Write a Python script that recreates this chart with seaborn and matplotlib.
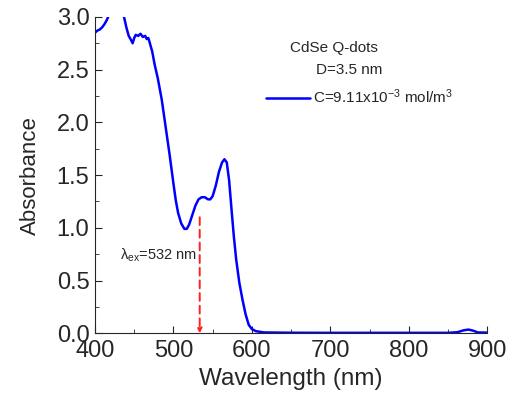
import numpy as np
import pandas as pd
import matplotlib
matplotlib.use('Agg')
import matplotlib.pyplot as plt
import seaborn as sns

# Absorbance spectrum of CdSe Q-dots
wavelength = [400, 403, 406, 409, 412, 415, 418, 425, 432, 437, 440, 443, 446, 448, 450,
              452, 455, 458, 461, 464, 466, 468, 470, 473, 476, 480, 485, 490, 495,
              500, 503, 506, 510, 514, 517, 520, 524, 528, 532, 536, 540, 544, 547,
              550, 554, 558, 562, 565, 568, 571, 574, 577, 580, 584, 588, 592, 596,
              600, 605, 615, 650, 700, 800, 850, 862, 870, 876, 882, 888, 900]
absorbance = [2.85, 2.87, 2.88, 2.90, 2.93, 2.97, 3.02, 3.08, 3.06, 3.00, 2.90, 2.82, 2.78, 2.75, 2.80,
              2.83, 2.82, 2.84, 2.81, 2.82, 2.79, 2.80, 2.75, 2.67, 2.55, 2.42, 2.22, 1.96, 1.70,
              1.42, 1.26, 1.14, 1.04, 0.99, 0.99, 1.03, 1.12, 1.21, 1.27, 1.29, 1.29, 1.27, 1.27,
              1.30, 1.40, 1.53, 1.62, 1.65, 1.62, 1.45, 1.18, 0.92, 0.70, 0.48, 0.32, 0.18, 0.08,
              0.04, 0.02, 0.008, 0.005, 0.004, 0.004, 0.004, 0.01, 0.028, 0.035, 0.025, 0.008, 0.006]

excitation_nm = 532
excitation_top = 1.10

x_ticks = [400, 500, 600, 700, 800, 900]
y_ticks = [0.0, 0.5, 1.0, 1.5, 2.0, 2.5, 3.0]

df = pd.DataFrame({'Wavelength': wavelength, 'Absorbance': absorbance})

sns.set_style('ticks')
plt.rcParams['font.family'] = ['Liberation Sans', 'DejaVu Sans']
plt.rcParams['mathtext.fontset'] = 'custom'
plt.rcParams['mathtext.rm'] = 'Liberation Sans'
plt.rcParams['mathtext.it'] = 'Liberation Sans'

fig = plt.figure(figsize=(5.08, 3.93), dpi=100)
ax = fig.add_axes([0.187, 0.152, 0.772, 0.805])

sns.lineplot(data=df, x='Wavelength', y='Absorbance', color='#0000ff', linewidth=1.8,
             label='C=9.11x10$^{-3}$ mol/m$^{3}$', ax=ax)

# excitation marker
ax.annotate('', xy=(excitation_nm + 1.5, 0.0), xytext=(excitation_nm + 1.5, excitation_top),
            arrowprops=dict(arrowstyle='-|>', color='#ff2020', lw=1.4, ls=(0, (4, 2.5)),
                            mutation_scale=7, shrinkA=0, shrinkB=0))
ax.text(432, 0.74, r'$\lambda_{\rm ex}$=532 nm', fontsize=10.5, va='center', ha='left')

ax.set_xlim(400, 900)
ax.set_ylim(0, 3.0)
ax.set_xticks(x_ticks)
ax.set_yticks(y_ticks)
ax.set_yticklabels([f'{v:.1f}' for v in y_ticks])
ax.set_xticks(np.arange(450, 900, 100), minor=True)
ax.set_yticks(np.arange(0.25, 3.0, 0.5), minor=True)
ax.tick_params(which='both', direction='in', labelsize=17)
ax.tick_params(axis='x', pad=5)
ax.tick_params(axis='y', pad=4)
ax.tick_params(which='major', length=5)
ax.tick_params(which='minor', length=3)
ax.set_xlabel('Wavelength (nm)', fontsize=17.5, labelpad=4)
ax.set_ylabel('Absorbance', fontsize=16, labelpad=11)
sns.despine(ax=ax)

ax.text(0.498, 0.888, 'CdSe Q-dots', transform=ax.transAxes, fontsize=11, ha='left')
ax.text(0.563, 0.82, 'D=3.5 nm', transform=ax.transAxes, fontsize=11, ha='left')
ax.legend(loc='upper left', bbox_to_anchor=(0.40, 0.82), frameon=False, fontsize=11,
          handlelength=2.9, handletextpad=0.2)

fig.savefig('out.png', dpi=100)
